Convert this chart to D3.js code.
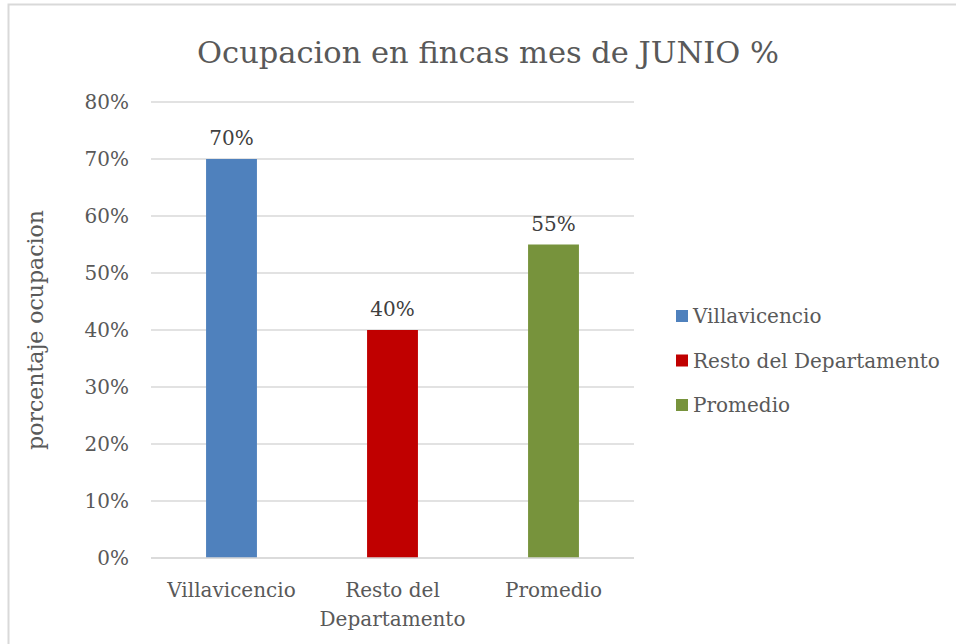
<!DOCTYPE html>
<html>
<head>
<meta charset="utf-8">
<script src="https://cdn.jsdelivr.net/npm/d3@7"></script>
<style>
  body { margin: 0; background: #fff; }
  text { font-family: "DejaVu Serif", "Liberation Serif", serif; }
</style>
</head>
<body>
<div id="chart"></div>
<script>
var categorias = ["Villavicencio", "Resto del Departamento", "Promedio"];
var valores = [0.70, 0.40, 0.55];
var colores = ["#4F81BD", "#C00000", "#77933C"];
var ticksY = [0, 0.1, 0.2, 0.3, 0.4, 0.5, 0.6, 0.7, 0.8];
var etiquetasX = [["Villavicencio"], ["Resto del", "Departamento"], ["Promedio"]];
var titulo = "Ocupacion en fincas mes de JUNIO %";
var tituloY = "porcentaje ocupacion";

var ancho = 956, alto = 644;
var fuente = "DejaVu Serif";

var svg = d3.select("#chart")
    .append("svg")
    .attr("width", ancho)
    .attr("height", alto);

// marco del grafico
svg.append("rect")
    .attr("x", 8.5).attr("y", 4.5)
    .attr("width", 960).attr("height", 660)
    .attr("fill", "#fff")
    .attr("stroke", "#d9d9d9")
    .attr("stroke-width", 2);

var x = d3.scaleBand()
    .domain(categorias)
    .range([151, 634])
    .paddingInner(0.684)
    .paddingOuter(0.342);

var y = d3.scaleLinear()
    .domain([0, 0.8])
    .range([558, 102]);

// lineas de cuadricula
svg.append("g")
    .selectAll("line")
    .data(ticksY)
    .enter()
    .append("line")
    .attr("x1", 151).attr("x2", 634)
    .attr("y1", function(d) { return y(d); })
    .attr("y2", function(d) { return y(d); })
    .attr("stroke", "#d9d9d9")
    .attr("stroke-width", 1.5);

// eje Y
var ejeY = d3.axisLeft(y)
    .tickValues(ticksY)
    .tickFormat(d3.format(".0%"))
    .tickSize(0)
    .tickPadding(22);

var gy = svg.append("g")
    .attr("transform", "translate(151,0)")
    .call(ejeY);
gy.select(".domain").remove();
gy.selectAll("text")
    .attr("font-family", fuente)
    .attr("font-size", 20)
    .attr("fill", "#595959");

// barras
svg.append("g")
    .selectAll("rect")
    .data(valores)
    .enter()
    .append("rect")
    .attr("x", function(d, i) { return x(categorias[i]); })
    .attr("y", function(d) { return y(d); })
    .attr("width", x.bandwidth())
    .attr("height", function(d) { return y(0) - y(d); })
    .attr("fill", function(d, i) { return colores[i]; });

// etiquetas de datos
svg.append("g")
    .selectAll("text")
    .data(valores)
    .enter()
    .append("text")
    .attr("x", function(d, i) { return x(categorias[i]) + x.bandwidth() / 2; })
    .attr("y", function(d) { return y(d) - 14; })
    .attr("text-anchor", "middle")
    .attr("font-size", 20)
    .attr("fill", "#404040")
    .text(function(d) { return d3.format(".0%")(d); });

// eje X
svg.append("line")
    .attr("x1", 151).attr("x2", 634)
    .attr("y1", y(0)).attr("y2", y(0))
    .attr("stroke", "#d9d9d9")
    .attr("stroke-width", 1.5);

var etX = svg.append("g")
    .selectAll("text")
    .data(etiquetasX)
    .enter()
    .append("text")
    .attr("text-anchor", "middle")
    .attr("font-size", 20)
    .attr("fill", "#595959");
etX.each(function(lineas, i) {
    var t = d3.select(this);
    lineas.forEach(function(l, k) {
        t.append("tspan")
            .attr("x", x(categorias[i]) + x.bandwidth() / 2)
            .attr("y", 597 + k * 29)
            .text(l);
    });
});

// titulo
svg.append("text")
    .attr("x", 488)
    .attr("y", 63)
    .attr("text-anchor", "middle")
    .attr("font-size", 30.5)
    .attr("fill", "#595959")
    .text(titulo);

// titulo eje Y
svg.append("text")
    .attr("transform", "translate(43,330) rotate(-90)")
    .attr("text-anchor", "middle")
    .attr("font-size", 22)
    .attr("fill", "#595959")
    .text(tituloY);

// leyenda
var ley = svg.append("g")
    .selectAll("g")
    .data(categorias)
    .enter()
    .append("g")
    .attr("transform", function(d, i) { return "translate(676," + (310 + i * 44.5) + ")"; });
ley.append("rect")
    .attr("width", 12).attr("height", 12)
    .attr("fill", function(d, i) { return colores[i]; });
ley.append("text")
    .attr("x", 17)
    .attr("y", 13)
    .attr("font-size", 20)
    .attr("fill", "#595959")
    .text(function(d) { return d; });
</script>
</body>
</html>
